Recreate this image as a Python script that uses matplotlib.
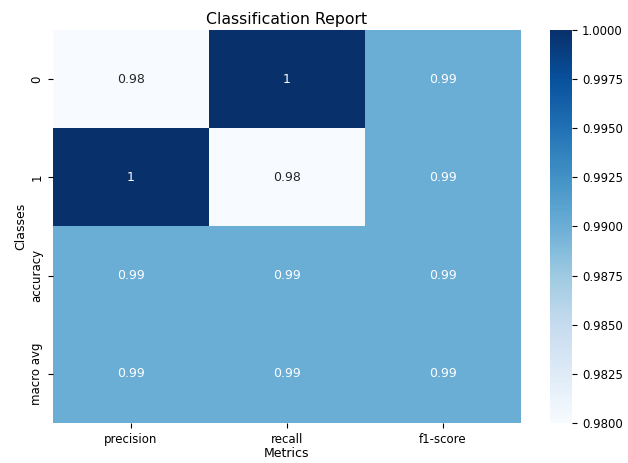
import numpy as np
import matplotlib
matplotlib.use("Agg")
import matplotlib.pyplot as plt
import seaborn as sns
import pandas as pd

classes = ['0', '1', 'accuracy', 'macro avg']
metrics = ['precision', 'recall', 'f1-score']
precision = [0.98, 1.0, 0.99, 0.99]
recall = [1.0, 0.98, 0.99, 0.99]
f1 = [0.99, 0.99, 0.99, 0.99]

report = pd.DataFrame({'precision': precision, 'recall': recall, 'f1-score': f1},
                      index=classes)[metrics]

fig = plt.figure(figsize=(6.28, 4.63), dpi=100)
ax = fig.add_axes([0.0844, 0.0864, 0.745, 0.849])
cax = fig.add_axes([0.876, 0.0864, 0.035, 0.849])
sns.heatmap(report, annot=True, cmap='Blues', vmin=0.98, vmax=1.0, ax=ax, cbar_ax=cax,
            annot_kws={'fontsize': 9})
ax.set_title('Classification Report', fontsize=11.3, pad=4)
ax.set_xlabel('Metrics', fontsize=9, labelpad=1)
ax.set_ylabel('Classes', fontsize=9, labelpad=2)
ax.tick_params(labelsize=8.5)
cax.tick_params(labelsize=8.5)
fig.savefig('out.png')
